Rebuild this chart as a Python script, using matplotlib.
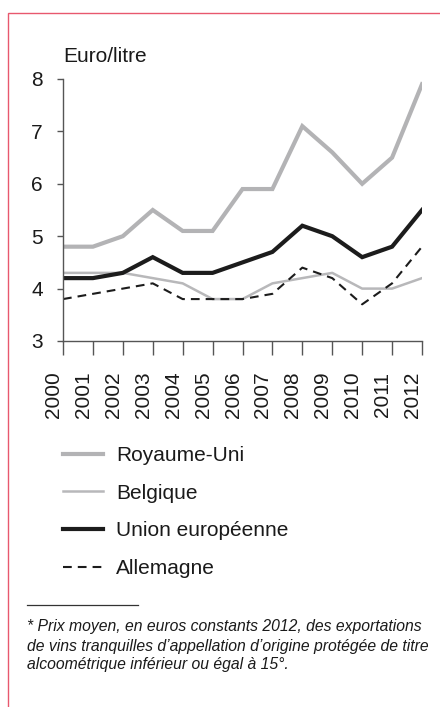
import matplotlib
matplotlib.use("Agg")
import matplotlib.pyplot as plt
from matplotlib.patches import Rectangle

plt.rcParams['font.family'] = ['Liberation Sans', 'DejaVu Sans']

# Prix moyen à l'export (euros constants 2012 / litre)
years = list(range(2000, 2013))
royaume_uni = [4.8, 4.8, 5.0, 5.5, 5.1, 5.1, 5.9, 5.9, 7.1, 6.6, 6.0, 6.5, 7.9]
belgique = [4.3, 4.3, 4.3, 4.2, 4.1, 3.8, 3.8, 4.1, 4.2, 4.3, 4.0, 4.0, 4.2]
union_eur = [4.2, 4.2, 4.3, 4.6, 4.3, 4.3, 4.5, 4.7, 5.2, 5.0, 4.6, 4.8, 5.5]
allemagne = [3.8, 3.9, 4.0, 4.1, 3.8, 3.8, 3.8, 3.9, 4.4, 4.2, 3.7, 4.1, 4.8]
y_ticks = [3, 4, 5, 6, 7, 8]

footnote = [
    "* Prix moyen, en euros constants 2012, des exportations",
    "de vins tranquilles d\u2019appellation d\u2019origine protégée de titre",
    "alcoométrique inférieur ou égal à 15°.",
]

W, H = 440, 707
fig = plt.figure(figsize=(W / 100, H / 100), dpi=100)

# pink frame (open on the right / bottom)
fig.patches.append(Rectangle((8 / W, -0.1), 1.2, 0.1 + 1 - 13 / H,
                             transform=fig.transFigure, fill=False,
                             edgecolor='#e8586e', lw=1.0))

ax = fig.add_axes([63 / W, 1 - 341 / H, (422 - 63) / W, (341 - 79) / H])

ax.plot(years, royaume_uni, color='#b3b3b5', lw=3.0, label='Royaume-Uni',
        solid_joinstyle='miter')
ax.plot(years, belgique, color='#b8b8ba', lw=1.8, label='Belgique')
ax.plot(years, union_eur, color='#1c1c1c', lw=3.0, label='Union européenne',
        solid_joinstyle='miter')
ax.plot(years, allemagne, color='#1c1c1c', lw=1.5, dashes=(4.2, 2.9),
        label='Allemagne')

ax.set_xlim(2000, 2012)
ax.set_ylim(3, 8)
ax.set_xticks(years)
ax.set_xticklabels([str(y) for y in years], rotation=90, ha='right')
ax.set_yticks(y_ticks)
for s in ['top', 'right']:
    ax.spines[s].set_visible(False)
for s in ['left', 'bottom']:
    ax.spines[s].set_color('#555555')
    ax.spines[s].set_linewidth(1.0)
ax.tick_params(axis='y', length=4.5, width=1.0, color='#555555',
               pad=10, labelsize=15, labelcolor='#1a1a1a')
ax.tick_params(axis='x', length=10, width=1.0, color='#555555',
               pad=12, labelsize=15, labelcolor='#1a1a1a')

fig.text(63 / W, 1 - 57 / H, 'Euro/litre', fontsize=15, color='#1a1a1a',
         va='center', ha='left')

handles, labels = ax.get_legend_handles_labels()
fig.legend(handles, labels, loc='upper left',
           bbox_to_anchor=(63 / W, 1 - 446 / H), frameon=False,
           fontsize=15, borderpad=0, borderaxespad=0, handlelength=1.9,
           handletextpad=0.65, labelspacing=0.9, labelcolor='#1a1a1a')

# footnote rule and text
fig.add_artist(plt.Line2D([27 / W, 138 / W], [1 - 605 / H, 1 - 605 / H],
                          color='#333333', lw=0.9))
for i, line in enumerate(footnote):
    fig.text(27 / W, 1 - (627 + 19 * i) / H, line, fontsize=11.3,
             style='italic', color='#1a1a1a', va='center', ha='left')

fig.savefig('out.png', dpi=100)
